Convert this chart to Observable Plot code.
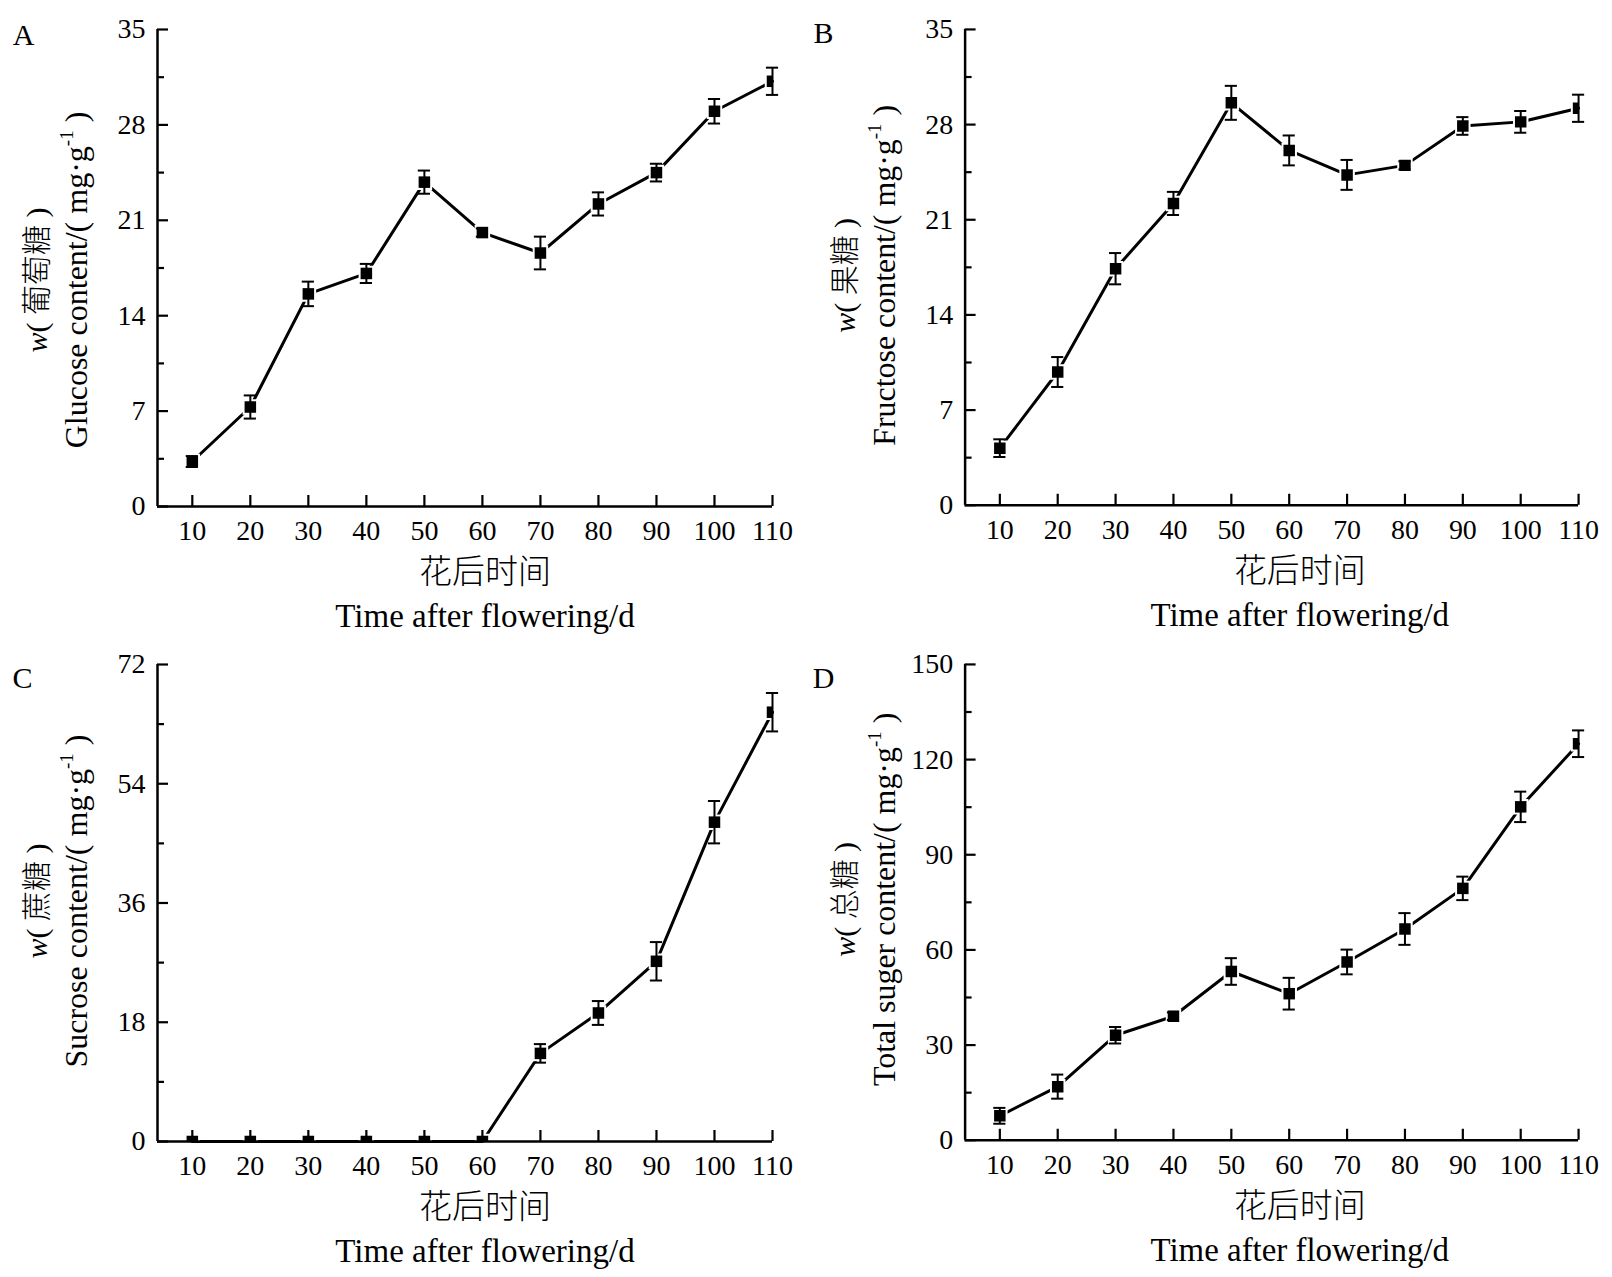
<!DOCTYPE html>
<html><head><meta charset="utf-8">
<script src="https://cdn.jsdelivr.net/npm/d3@7"></script>
<script src="https://cdn.jsdelivr.net/npm/@observablehq/plot@0.6"></script>
<style>
body{margin:0;background:#fff;}
#root{position:relative;width:1612px;height:1277px;background:#fff;overflow:hidden;}
.panel{position:absolute;}
.panel svg{overflow:visible;}
</style></head><body><div id="root"></div>
<script>
// ---- data ----
const days = [10, 20, 30, 40, 50, 60, 70, 80, 90, 100, 110];
const glucose    = [3.3, 7.3, 15.6, 17.1, 23.8, 20.1, 18.6, 22.2, 24.5, 29.0, 31.2];
const glucoseErr = [0.4, 0.85, 0.9, 0.7, 0.85, 0.3, 1.2, 0.85, 0.65, 0.9, 1.0];
const fructose    = [4.2, 9.8, 17.4, 22.2, 29.6, 26.1, 24.3, 25.0, 27.9, 28.2, 29.2];
const fructoseErr = [0.65, 1.1, 1.15, 0.85, 1.25, 1.1, 1.1, 0.3, 0.65, 0.8, 1.0];
const sucrose    = [0, 0, 0, 0, 0, 0, 13.3, 19.4, 27.2, 48.2, 64.8];
const sucroseErr = [0, 0, 0, 0, 0, 0, 1.4, 1.8, 2.9, 3.2, 2.9];
const total    = [7.7, 16.9, 33.1, 39.1, 53.2, 46.2, 56.2, 66.6, 79.4, 105.1, 125.0];
const totalErr = [2.5, 3.8, 2.6, 1.2, 4.2, 5.0, 3.9, 5.0, 3.7, 4.8, 4.2];

const xTicks = [10, 20, 30, 40, 50, 60, 70, 80, 90, 100, 110];
const letters = ["A", "B", "C", "D"];
const cnNames = ["葡萄糖", "果糖", "蔗糖", "总糖"];
const enNames = ["Glucose content", "Fructose content", "Sucrose content", "Total suger content"];
const yMaxes = [35, 35, 72, 150];
const yMajorTicks = [[0, 7, 14, 21, 28, 35], [0, 7, 14, 21, 28, 35], [0, 18, 36, 54, 72], [0, 30, 60, 90, 120, 150]];
const yMinorTicks = [[3.5, 10.5, 17.5, 24.5, 31.5], [3.5, 10.5, 17.5, 24.5, 31.5], [9, 27, 45, 63], [15, 45, 75, 105, 135]];
const xTitleCn = "花后时间";
const xTitleEn = "Time after flowering/d";
const seriesValues = [glucose, fructose, sucrose, total];
const seriesErrors = [glucoseErr, fructoseErr, sucroseErr, totalErr];

// ---- layout ----
const layout = [
  {left: 0,   top: 1,   titleDy: 12, letterDx: -134, letterDy: 6,  xTitleDx: 20},
  {left: 808, top: 1,   titleDy: 8,  letterDx: -142, letterDy: 4,  xTitleDx: 28},
  {left: 0,   top: 636, titleDy: -2, letterDx: -135, letterDy: 14, xTitleDx: 20},
  {left: 808, top: 636, titleDy: -3, letterDx: -142, letterDy: 14, xTitleDx: 28}
];
const FONT = '"Liberation Serif", "Times New Roman", "Noto Sans CJK SC", serif';
const W = 806, H = 638, mL = 157, mR = 34, mT = 28, mB = 133;
const fw = W - mL - mR, fh = H - mT - mB;

function makePanel(k) {
  const rows = days.map((d, i) => ({day: d, v: seriesValues[k][i], e: seriesErrors[k][i]}));
  const errRows = rows.filter(d => d.e > 0);
  const L = layout[k];
  const cnLine = "w( " + cnNames[k] + " )";
  const enLine = enNames[k] + "/( mg·g-1 )";
  const svg = Plot.plot({
    width: W, height: H, marginLeft: mL, marginRight: mR, marginTop: mT, marginBottom: mB,
    style: {fontFamily: FONT, background: "white", color: "black"},
    x: {domain: [4, 110]},
    y: {domain: [0, yMaxes[k]]},
    marks: [
      Plot.line(rows, {x: "day", y: "v", stroke: "black", strokeWidth: 3}),
      Plot.dot(rows, {x: "day", y: "v", symbol: "square", r: 6.5, fill: "black", stroke: "white", strokeWidth: 4, clip: true}),
      Plot.ruleX(errRows, {x: "day", y1: d => d.v - d.e, y2: d => d.v + d.e, stroke: "black", strokeWidth: 2}),
      Plot.ruleY(errRows, {y: d => d.v + d.e, x1: d => d.day - 1.05, x2: d => d.day + 1.05, stroke: "black", strokeWidth: 2}),
      Plot.ruleY(errRows, {y: d => d.v - d.e, x1: d => d.day - 1.05, x2: d => d.day + 1.05, stroke: "black", strokeWidth: 2}),
      Plot.dot(rows, {x: "day", y: "v", symbol: "square", r: 6.5, fill: "black", clip: true}),
      // axes lines and inward ticks
      Plot.ruleX([4], {stroke: "black", strokeWidth: 2.5}),
      Plot.ruleY([0], {stroke: "black", strokeWidth: 2.5}),
      Plot.ruleX(xTicks, {x: d => d, insetTop: fh - 11, stroke: "black", strokeWidth: 2.2}),
      Plot.ruleY(yMajorTicks[k], {y: d => d, insetRight: fw - 11, stroke: "black", strokeWidth: 2.2}),
      Plot.ruleY(yMinorTicks[k], {y: d => d, insetRight: fw - 7, stroke: "black", strokeWidth: 2.2}),
      Plot.axisX({ticks: xTicks, tickSize: 0, tickPadding: 14, fontSize: 28, label: null, tickFormat: d => String(d)}),
      Plot.axisY({ticks: yMajorTicks[k], tickSize: 0, tickPadding: 12, fontSize: 28, label: null, tickFormat: d => String(d)}),
      // titles
      Plot.text([cnLine], {text: d => d, frameAnchor: "left", rotate: -90, dx: -120, dy: L.titleDy, textAnchor: "middle", lineAnchor: "middle", fontSize: 30, fontWeight: 300, fill: "black"}),
      Plot.text([enLine], {text: d => d, frameAnchor: "left", rotate: -90, dx: -81, dy: L.titleDy, textAnchor: "middle", lineAnchor: "middle", fontSize: 32, fill: "black"}),
      Plot.text([xTitleCn], {text: d => d, frameAnchor: "bottom", dx: L.xTitleDx, dy: 66, textAnchor: "middle", lineAnchor: "middle", fontSize: 33, fontWeight: 300, fill: "black"}),
      Plot.text([xTitleEn], {text: d => d, frameAnchor: "bottom", dx: L.xTitleDx, dy: 110, textAnchor: "middle", lineAnchor: "middle", fontSize: 33, fill: "black"}),
      Plot.text([letters[k]], {text: d => d, frameAnchor: "top-left", dx: L.letterDx, dy: L.letterDy, textAnchor: "middle", lineAnchor: "middle", fontSize: 30, fill: "black"})
    ]
  });
  // rich text: italic w and superscript -1
  svg.querySelectorAll("text").forEach(t => {
    const s = t.textContent;
    if (s === cnLine) {
      t.textContent = "";
      const a = document.createElementNS("http://www.w3.org/2000/svg", "tspan");
      a.setAttribute("font-style", "italic"); a.textContent = "w";
      const b = document.createElementNS("http://www.w3.org/2000/svg", "tspan");
      b.textContent = s.slice(1);
      t.append(a, b);
    } else if (s === enLine) {
      t.textContent = "";
      const i = s.indexOf("-1");
      const a = document.createElementNS("http://www.w3.org/2000/svg", "tspan");
      a.textContent = s.slice(0, i);
      const b = document.createElementNS("http://www.w3.org/2000/svg", "tspan");
      b.setAttribute("font-size", "19"); b.setAttribute("dy", "-14"); b.textContent = "-1";
      const c = document.createElementNS("http://www.w3.org/2000/svg", "tspan");
      c.setAttribute("dy", "14"); c.textContent = s.slice(i + 2);
      t.append(a, b, c);
    }
  });
  const div = document.createElement("div");
  div.className = "panel";
  div.style.left = L.left + "px";
  div.style.top = L.top + "px";
  div.appendChild(svg);
  return div;
}
const root = document.getElementById("root");
for (let k = 0; k < 4; k++) root.appendChild(makePanel(k));
</script>
</body></html>
